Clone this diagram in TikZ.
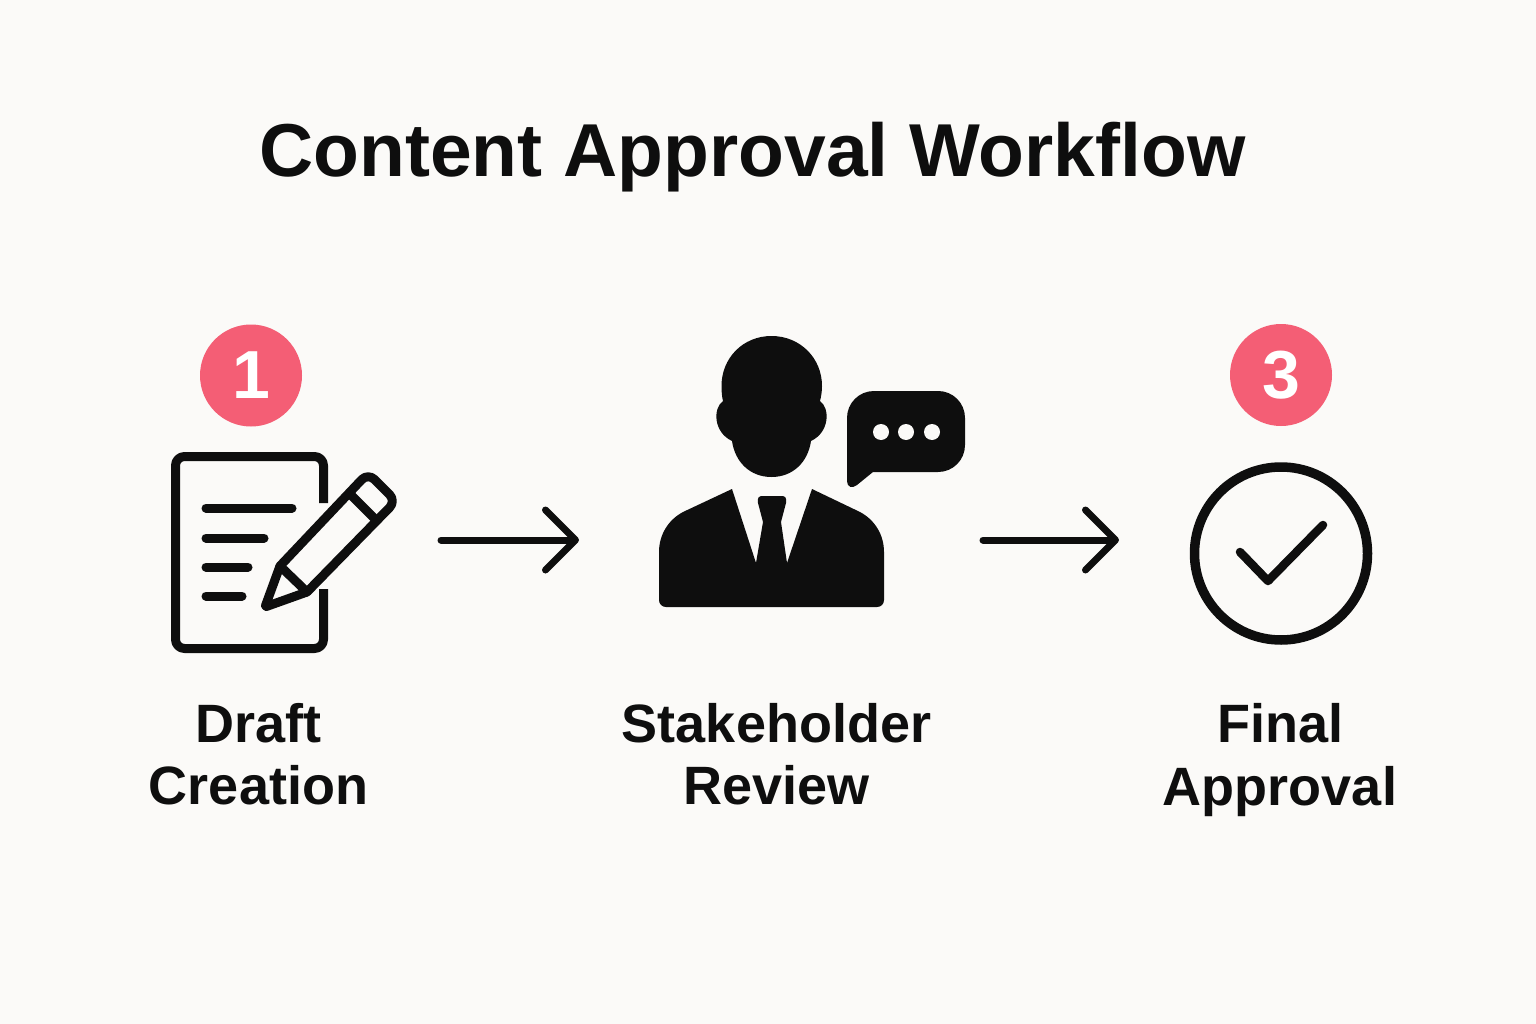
\documentclass[tikz,border=0pt]{standalone}
\usepackage{fontspec}
\setmainfont{Liberation Sans}
\usetikzlibrary{arrows.meta}
\definecolor{paper}{HTML}{FBFAF8}
\definecolor{ink}{HTML}{0E0E0E}
\definecolor{badge}{HTML}{F45E75}
\tikzset{
  iconline/.style={draw=ink,line width=9pt,line cap=round,line join=round},
  flow/.style={draw=ink,line width=7pt,line cap=round,-{Straight Barb[length=30pt,width=60pt,round]}},
  badgedisc/.style={circle,fill=badge,draw=none,minimum size=102pt,inner sep=0pt,text=white,font=\fontsize{68}{68}\selectfont\bfseries},
  titletext/.style={text=ink,font=\fontsize{75}{80}\selectfont\bfseries,inner sep=0pt,anchor=base},
  steplabel/.style={text=ink,font=\fontsize{54}{62.5}\selectfont\bfseries,inner sep=0pt,align=center,anchor=center}
}
\begin{document}
\begin{tikzpicture}[x=1pt,y=-1pt]
\fill[paper] (0,0) rectangle (1536,1024);
\useasboundingbox (0,0) rectangle (1536,1024);
\node[titletext] (title) at (752.5,177) {Content Approval Workflow};
% badges
\node[badgedisc] (b1) at (251,375.5) {1};
\node[badgedisc] (b3) at (1281,375) {3};
% document icon
\draw[iconline,line cap=butt,rounded corners=9pt] (323.5,503) -- (323.5,456.5) -- (175.5,456.5) -- (175.5,648.5) -- (323.5,648.5) -- (323.5,589);
\foreach \yy/\xx in {508/292,538/264,567/248,596/242}
  \draw[iconline] (206,\yy) -- (\xx,\yy);
% pencil
\draw[iconline,rounded corners=1.5pt] (280,566) -- (265,607) -- (307,592);
\draw[iconline,rounded corners=9pt] (280,566) -- (368,473) -- (396,501) -- (307,592);
\draw[iconline,line cap=butt] (280,566) -- (307,592);
\draw[iconline,line cap=butt] (351,495) -- (376,520);
% person
\fill[ink] (771.5,336) .. controls (743,336) and (721.5,358) .. (721.5,386)
  .. controls (721.5,392) and (722,397) .. (723,401)
  .. controls (713,408) and (713,432) .. (732,441)
  .. controls (735,462) and (750,477) .. (771.5,477)
  .. controls (793,477) and (808,462) .. (811,441)
  .. controls (830,432) and (830,408) .. (820,401)
  .. controls (821,397) and (822,392) .. (822,386)
  .. controls (822,358) and (800,336) .. (771.5,336) -- cycle;
\fill[ink] (732,489) -- (756,563) -- (763,522) -- (758,503)
  .. controls (757,498) and (759,496) .. (762,496) -- (782,496)
  .. controls (785,496) and (787,498) .. (786,503) -- (781,522) -- (787,563) -- (812,489)
  -- (860,512) .. controls (875,520) and (884,535) .. (884,552) -- (884,600)
  .. controls (884,604) and (881,607) .. (877,607) -- (666,607)
  .. controls (662,607) and (659,604) .. (659,600) -- (659,552)
  .. controls (659,535) and (668,520) .. (683,512) -- cycle;
% speech bubble
\fill[ink] (874,391) -- (938,391) .. controls (953,391) and (965,403) .. (965,418)
  -- (965,445) .. controls (965,460) and (953,472) .. (938,472) -- (873,472)
  -- (857,485) .. controls (852,489) and (847,487) .. (847,481) -- (847,418)
  .. controls (847,403) and (859,391) .. (874,391) -- cycle;
\fill[paper] (881,432) circle (8pt) (906,432) circle (8pt) (932,432) circle (8pt);
% check circle
\draw[draw=ink,line width=9.5pt] (1281,553.5) circle (86.5pt);
\draw[iconline,line width=8.5pt] (1240,552) -- (1268,581) -- (1323,525);
% labels
\node[steplabel] (l1) at (258.5,754) {Draft\\Creation};
\node[steplabel] (l2) at (776.5,754) {Stakeholder\\Review};
\node[steplabel] (l3) at (1280,760) {Final\\Approval};
% connectors
\coordinate (a1s) at (441,540); \coordinate (a1e) at (579,540);
\coordinate (a2s) at (983,540); \coordinate (a2e) at (1119,540);
\draw[flow] (a1s) -- (a1e);
\draw[flow] (a2s) -- (a2e);
\end{tikzpicture}
\end{document}
